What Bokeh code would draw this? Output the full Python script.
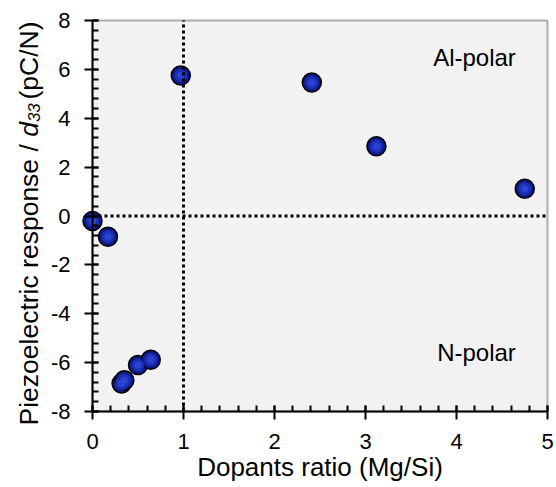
import numpy as np
from math import pi
from bokeh.plotting import figure
from bokeh.models import Label, FixedTicker, Range1d, BoxAnnotation
from bokeh.embed import file_html
from bokeh.resources import INLINE

# ---- data ----
dopant_ratio = [0.00, 0.17, 0.32, 0.35, 0.50, 0.64, 0.97, 2.41, 3.12, 4.75]
d33_values = [-0.20, -0.85, -6.85, -6.72, -6.10, -5.88, 5.75, 5.46, 2.85, 1.12]
x_ticks = [0, 1, 2, 3, 4, 5]
y_ticks = [-8, -6, -4, -2, 0, 2, 4, 6, 8]
x_limits = [0, 5]
y_limits = [-8, 8]
x_divider = 1     # dotted vertical guide
y_divider = 0     # dotted horizontal guide
x_title = "Dopants ratio (Mg/Si)"
y_title_parts = ["Piezoelectric response /", "d", "33", "(pC/N)"]
region_names = ["Al-polar", "N-polar"]

FONT = "Liberation Sans"
W, H = 556, 487
# plot box in canvas pixels
BOX_L, BOX_R, BOX_T, BOX_B = 92, 547, 20, 411
ppx = (BOX_R - BOX_L) / (x_limits[1] - x_limits[0])
ppy = (BOX_B - BOX_T) / (y_limits[1] - y_limits[0])
x_range = Range1d(x_limits[0] - BOX_L / ppx, x_limits[1] + (W - BOX_R) / ppx)
y_range = Range1d(y_limits[0] - (H - BOX_B) / ppy, y_limits[1] + BOX_T / ppy)

def X(px):
    return x_limits[0] + (px - BOX_L) / ppx

def Y(py):
    return y_limits[1] - (py - BOX_T) / ppy

p = figure(width=W, height=H, x_range=x_range, y_range=y_range,
           output_backend="svg", toolbar_location=None, min_border=0)
p.background_fill_color = "white"
p.border_fill_color = "white"
p.outline_line_color = None
p.xgrid.visible = False
p.ygrid.visible = False

# gray plotting area with black frame
p.add_layout(BoxAnnotation(left=x_limits[0], right=x_limits[1], bottom=y_limits[0], top=y_limits[1],
                           fill_color="#f2f2f2", fill_alpha=1, line_color="black", line_width=2,
                           level="underlay"))

p.xaxis.ticker = FixedTicker(ticks=x_ticks, minor_ticks=list(np.round(np.arange(0, 5.001, 0.2), 3)))
p.yaxis.ticker = FixedTicker(ticks=y_ticks, minor_ticks=list(np.round(np.arange(-8, 8.001, 0.4), 3)))
p.xaxis.major_label_overrides = {t: str(t) for t in x_ticks}
p.yaxis.major_label_overrides = {t: str(t) for t in y_ticks}
p.xaxis.fixed_location = y_limits[0]
p.yaxis.fixed_location = x_limits[0]
p.xaxis.bounds = tuple(x_limits)
p.yaxis.bounds = tuple(y_limits)

for ax in (p.xaxis[0], p.yaxis[0]):
    ax.axis_line_color = "black"
    ax.axis_line_width = 2
    ax.major_tick_line_color = "black"
    ax.major_tick_line_width = 2
    ax.minor_tick_line_color = "black"
    ax.minor_tick_line_width = 2
    ax.major_tick_in = 6
    ax.major_tick_out = 8
    ax.minor_tick_in = 6
    ax.minor_tick_out = 0
    ax.major_label_text_font = FONT
    ax.major_label_text_font_size = "22px"
    ax.major_label_text_color = "black"
    ax.major_label_standoff = 14

p.xaxis.axis_label = x_title
p.xaxis.axis_label_text_font = FONT
p.xaxis.axis_label_text_font_size = "26px"
p.xaxis.axis_label_text_font_style = "normal"
p.xaxis.axis_label_text_color = "black"
p.xaxis.axis_label_standoff = 0

# points (layered to imitate a shaded sphere)
p.scatter(dopant_ratio, d33_values, size=19, fill_color="#0f1a88", line_color="black", line_width=1.5)
p.scatter(dopant_ratio, d33_values, size=13, fill_color="#1c30b4", line_color=None)
p.scatter(dopant_ratio, d33_values, size=7, fill_color="#2c46d6", line_color=None, fill_alpha=0.9)

# dotted guide lines (drawn over the points)
p.segment(x0=[x_divider, x_limits[0]], y0=[y_limits[0], y_divider],
          x1=[x_divider, x_limits[1]], y1=[y_limits[1], y_divider],
          line_color="black", line_width=3, line_dash="3 3")

# region labels
p.add_layout(Label(x=X(474), y=Y(57), text=region_names[0], text_font=FONT, text_font_size="24px",
                   text_align="center", text_baseline="middle", text_color="black"))
p.add_layout(Label(x=X(476), y=Y(352), text=region_names[1], text_font=FONT, text_font_size="24px",
                   text_align="center", text_baseline="middle", text_color="black"))

# y-axis title assembled from pieces (italic d with subscript 33)
fs = 26.5
sub_fs = 17
space = 0.278 * fs
w_main = 10.615 * fs + space
w_d = 0.556 * fs
w_sub = 2 * 0.556 * sub_fs + 0.5 * space
offs = [0, w_main, w_main + w_d, w_main + w_d + w_sub]
styles = ["normal", "italic", "italic", "normal"]
sizes = [fs, fs, sub_fs, fs]
xoffs = [0, 0, 5, 0]
for t, o, st, sz, xo in zip(y_title_parts, offs, styles, sizes, xoffs):
    p.add_layout(Label(x=X(28), y=Y(425), x_offset=xo, y_offset=o,
                       text=t, angle=pi / 2,
                       text_font=FONT, text_font_size=f"{sz}px", text_font_style=st,
                       text_align="left", text_baseline="alphabetic", text_color="black"))

open("out.html", "w").write(file_html(p, INLINE))
